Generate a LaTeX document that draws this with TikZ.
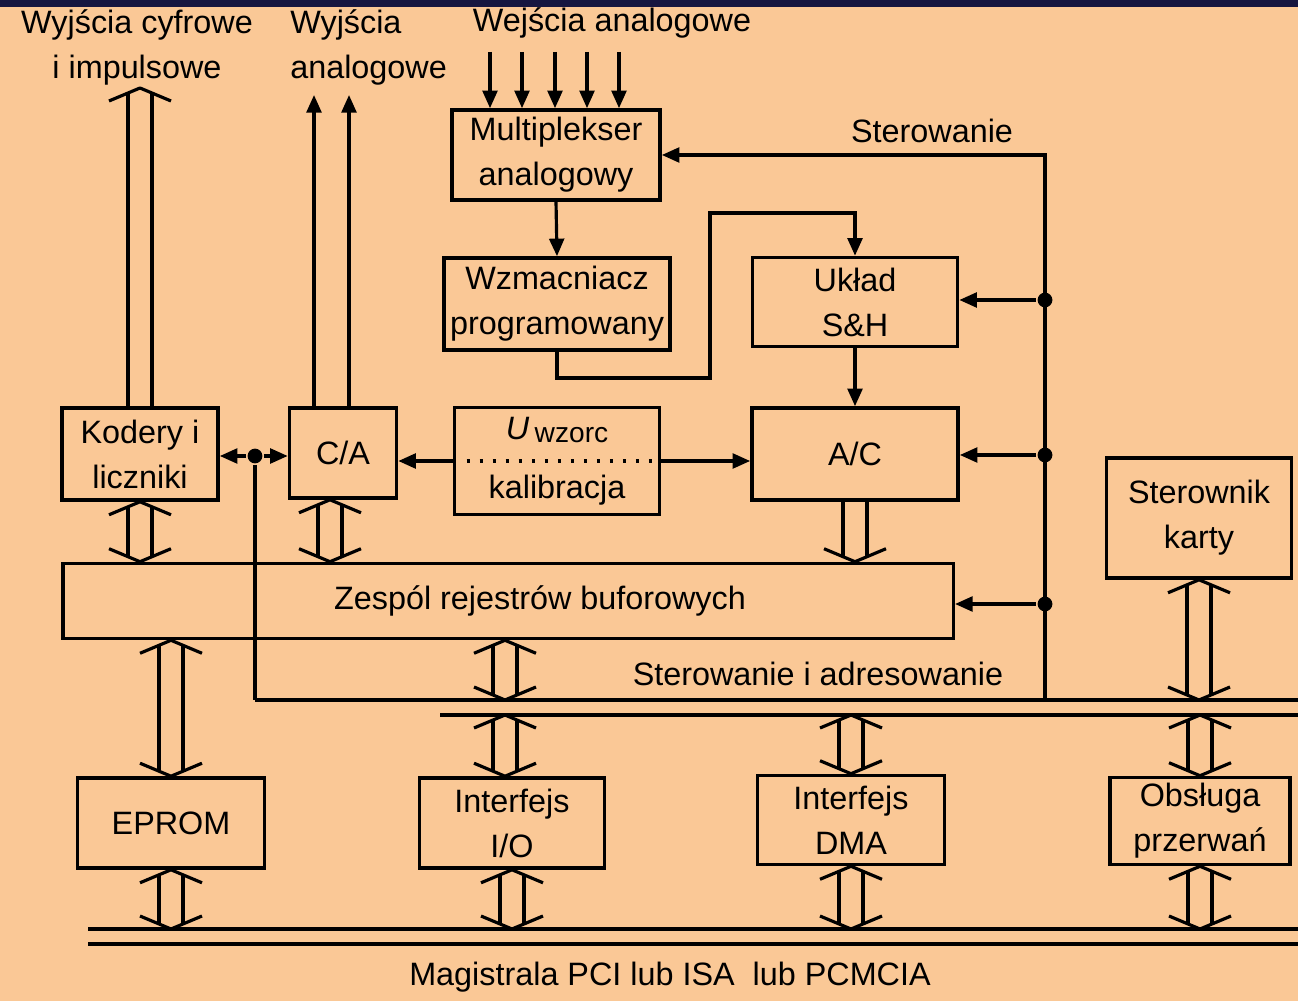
\documentclass[tikz,border=0pt]{standalone}
\usepackage{fontspec}
\setmainfont{Liberation Sans}
\usetikzlibrary{arrows.meta}
\usetikzlibrary{calc}

\definecolor{peach}{RGB}{250,200,150}
\definecolor{navy}{RGB}{22,22,64}

% wide (bus) arrows: #1 upper end, #2 lower end
\newcommand{\busboth}[2]{%
  \draw[wide] ($(#1)+(-12,5)$) -- ($(#2)+(-12,-5)$);
  \draw[wide] ($(#1)+(12,5)$) -- ($(#2)+(12,-5)$);
  \draw[wide] ($(#1)+(-31,13)$) -- (#1) -- ($(#1)+(31,13)$);
  \draw[wide] ($(#2)+(-31,-13)$) -- (#2) -- ($(#2)+(31,-13)$);}
\newcommand{\busup}[2]{%
  \draw[wide] ($(#1)+(-12,5)$) -- ($(#2)+(-12,0)$);
  \draw[wide] ($(#1)+(12,5)$) -- ($(#2)+(12,0)$);
  \draw[wide] ($(#1)+(-31,13)$) -- (#1) -- ($(#1)+(31,13)$);}
\newcommand{\busdown}[2]{%
  \draw[wide] ($(#1)+(-12,0)$) -- ($(#2)+(-12,-5)$);
  \draw[wide] ($(#1)+(12,0)$) -- ($(#2)+(12,-5)$);
  \draw[wide] ($(#2)+(-31,-13)$) -- (#2) -- ($(#2)+(31,-13)$);}

\begin{document}
\begin{tikzpicture}[x=0.01cm,y=-0.01cm,line width=0.9pt,
	font=\fontsize{9.2}{12.8}\selectfont,
	box/.style={draw,line width=1pt,align=center,inner sep=0pt},
	sig/.style={-{Triangle[length=5pt,width=4.2pt]}},
	wide/.style={line width=0.9pt,line join=round},
	busline/.style={line width=1.2pt},
	dot/.style={circle,fill,inner sep=0pt,minimum size=4.2pt}]

		\useasboundingbox (0,0) rectangle (1298,1001);
		\fill[peach] (0,0) rectangle (1298,1001);
		\fill[navy] (0,0) rectangle (1298,7);

		% labels
		\node[align=center] (outd) at (137,47) {Wyjścia cyfrowe\\i impulsowe};
		\node[align=left,anchor=west] (outa) at (277,47) {Wyjścia\\analogowe};
		\node (ina) at (612,23) {Wejścia analogowe};
		\node (lctl) at (932,131) {Sterowanie};
		\node (lbus) at (818,674) {Sterowanie i adresowanie};
		\node (lmag) at (670,977) {Magistrala PCI lub ISA\ \ lub PCMCIA};

		% blocks
		\node[box,minimum width=2.08cm,minimum height=0.9cm] (mux) at (556,155) {Multiplekser\\analogowy};
		\node[box,minimum width=2.26cm,minimum height=0.92cm] (amp) at (557,304) {Wzmacniacz\\programowany};
		\node[box,minimum width=2.05cm,minimum height=0.89cm] (sh) at (855,302) {Układ\\S\&H};
		\node[box,minimum width=1.56cm,minimum height=0.92cm] (kod) at (140,454) {Kodery i\\liczniki};
		\node[box,minimum width=1.07cm,minimum height=0.9cm] (ca) at (343,453) {C/A};
		\node[box,minimum width=2.05cm,minimum height=1.07cm] (ref) at (557,461) {\textit{U}\,\raisebox{-1pt}{\fontsize{8}{8}\selectfont wzorc}\\[4pt]kalibracja};
		\node[box,minimum width=2.06cm,minimum height=0.92cm] (ac) at (855,454) {A/C};
		\node[box,minimum width=1.85cm,minimum height=1.2cm] (ctl) at (1199,518) {Sterownik\\karty};
		\node[box,minimum width=8.9cm,minimum height=0.75cm] (reg) at (508,601) {\hspace*{0.64cm}Zespól rejestrów buforowych};
		\node[box,minimum width=1.87cm,minimum height=0.9cm] (eprom) at (171,823) {EPROM};
		\node[box,minimum width=1.85cm,minimum height=0.9cm] (io) at (512,823) {Interfejs\\I/O};
		\node[box,minimum width=1.87cm,minimum height=0.89cm] (dma) at (851,820) {Interfejs\\DMA};
		\node[box,minimum width=1.8cm,minimum height=0.87cm] (irq) at (1200,821) {Obsługa\\przerwań};

		% buses
		\coordinate (busA) at (255,700);
		\coordinate (busB) at (1298,700);
		\coordinate (busC) at (440,715);
		\coordinate (busD) at (1298,715);
		\coordinate (magA) at (88,929);
		\coordinate (magB) at (1298,929);
		\coordinate (magC) at (88,944);
		\coordinate (magD) at (1298,944);
		\draw[busline] (busA) -- (busB);
		\draw[busline] (busC) -- (busD);
		\draw[busline] (magA) -- (magB);
		\draw[busline] (magC) -- (magD);

		% analog path
		\foreach \x in {490,522,555,587,619}
			\draw[sig] (\x,52) -- (\x,0 |- mux.north);
		\draw[sig] (mux.south) -- (amp.north);
		\draw[sig] (amp.south) |- (710,378) -- (710,213) -| (sh.north);
		\draw[sig] (sh) -- (ac);
		\draw[sig] (ref.east) -- (ac.west |- ref.east);
		\draw[sig] (ref.west) -- (ca.east |- ref.west);
		\draw[line width=1.1pt,dash pattern=on 0.9pt off 2.8pt] ($(ref.west)+(14,0)$) -- (ref.east);
		\foreach \x in {314,349}
			\draw[sig] (\x,0 |- ca.north) -- (\x,95);

		% control line
		\coordinate (cbot) at (1045,700);
		\draw[sig] (cbot) |- (mux.east);
		\node[dot] (d1) at (1045,300) {};
		\node[dot] (d2) at (1045,455) {};
		\node[dot] (d3) at (1045,604) {};
		\draw[sig] (d1) -- (sh.east |- d1);
		\draw[sig] (d2) -- (ac.east |- d2);
		\draw[sig] (d3) -- (reg.east |- d3);

		\node[dot] (jd) at (255,456) {};
		\draw[sig] (jd) -- (kod.east |- jd);
		\draw[sig] (jd) -- (ca.west |- jd);
		\draw (jd) -- (jd |- busA);

		% wide arrows
		\coordinate (kodT) at (140,88);
		\coordinate (caB) at ($(ca.south)+(-13,0)$);
		\coordinate (regB) at (505,0 |- reg.south);
		\coordinate (ioT) at (505,0 |- io.north);
		\busup{kodT}{kod.north}
		\busboth{kod.south}{kod.south |- reg.north}
		\busboth{caB}{caB |- reg.north}
		\busdown{ac.south}{ac.south |- reg.north}
		\busboth{regB}{regB |- busA}
		\busboth{ctl.south}{ctl.south |- busA}
		\busboth{eprom.north |- reg.south}{eprom.north}
		\busboth{ioT |- busC}{ioT}
		\busboth{dma.north |- busC}{dma.north}
		\busboth{irq.north |- busC}{irq.north}
		\busboth{eprom.south}{eprom.south |- magA}
		\busboth{io.south}{io.south |- magA}
		\busboth{dma.south}{dma.south |- magA}
		\busboth{irq.south}{irq.south |- magA}

\end{tikzpicture}
\end{document}
